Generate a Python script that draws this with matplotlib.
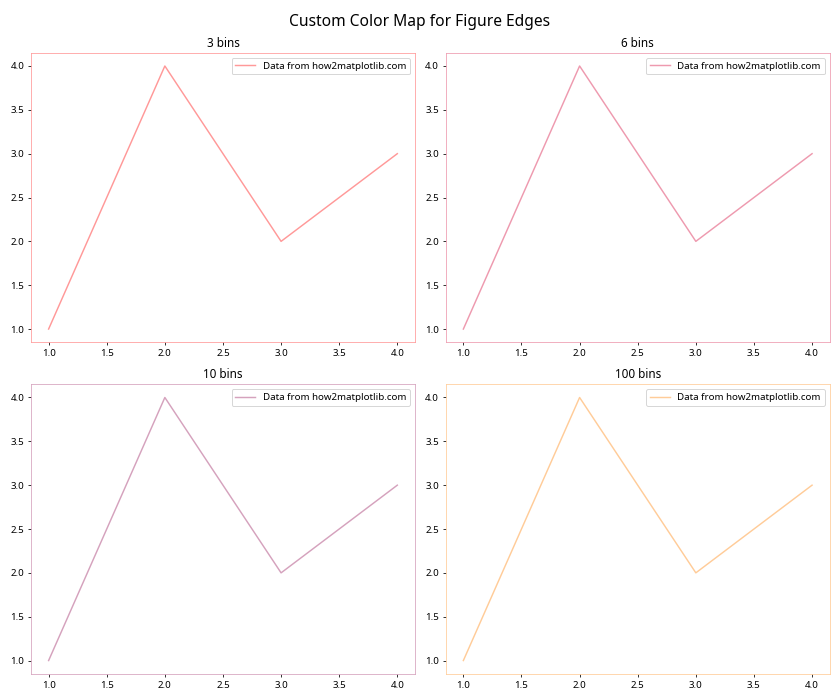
import matplotlib
matplotlib.use("Agg")
import matplotlib.pyplot as plt

plt.rcParams['font.family'] = ['Noto Sans', 'DejaVu Sans']

x = [1, 2, 3, 4]
y = [1, 4, 2, 3]
titles = ['3 bins', '6 bins', '10 bins', '100 bins']
colors = ['#ff9999', '#ee9aaf', '#d5a2bd', '#ffcc99']
label = 'Data from how2matplotlib.com'

fig, axes = plt.subplots(2, 2, figsize=(12, 10), dpi=70)
for ax, t, c in zip(axes.flat, titles, colors):
    ax.plot(x, y, color=c, label=label)
    ax.set_title(t)
    ax.legend()
    for s in ax.spines.values():
        s.set_edgecolor(c)
fig.suptitle('Custom Color Map for Figure Edges', fontsize=16)
plt.tight_layout()
fig.savefig('out.png', dpi=70)
